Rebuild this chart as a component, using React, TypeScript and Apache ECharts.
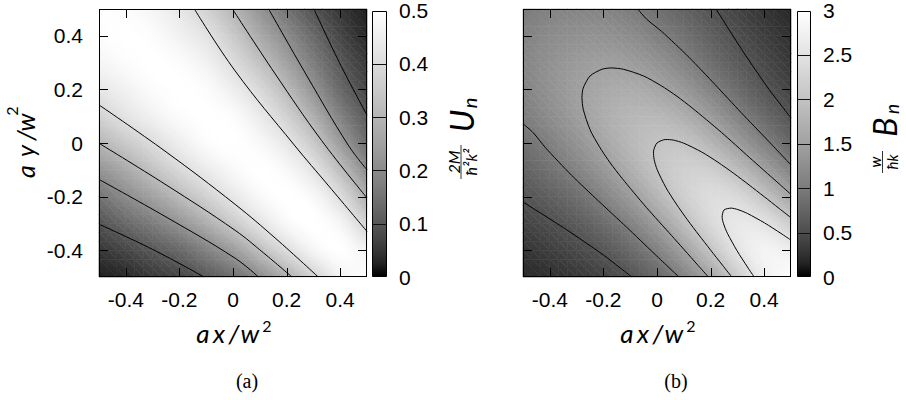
import React, { useEffect, useRef } from "react";
import * as echarts from "echarts";

const FONT = "'Liberation Sans', Arial, sans-serif";
const MATH = "Lato, 'Liberation Sans', sans-serif";
const SERIF = "'Liberation Serif', 'Times New Roman', serif";

const nodeX = [-0.5, -0.4, -0.3, -0.2, -0.1, 0, 0.1, 0.2, 0.3, 0.4, 0.5];
const nodeY = [0.5, 0.4, 0.3, 0.2, 0.1, 0, -0.1, -0.2, -0.3, -0.4, -0.5];
const axisTicks = [-0.4, -0.2, 0, 0.2, 0.4];
const uBarTicks = [0, 0.1, 0.2, 0.3, 0.4, 0.5];
const bBarTicks = [0, 0.5, 1, 1.5, 2, 2.5, 3];
const uMax = 0.5;
const bMax = 3;

const uField = [
  [0.50, 0.49, 0.47, 0.43, 0.37, 0.30, 0.22, 0.15, 0.09, 0.05, 0.02],
  [0.49, 0.50, 0.49, 0.46, 0.42, 0.35, 0.27, 0.20, 0.13, 0.07, 0.03],
  [0.47, 0.49, 0.50, 0.49, 0.46, 0.40, 0.33, 0.25, 0.17, 0.10, 0.05],
  [0.43, 0.46, 0.49, 0.50, 0.49, 0.45, 0.39, 0.31, 0.22, 0.13, 0.07],
  [0.37, 0.42, 0.46, 0.49, 0.50, 0.49, 0.44, 0.37, 0.28, 0.18, 0.10],
  [0.30, 0.35, 0.40, 0.45, 0.49, 0.50, 0.48, 0.43, 0.35, 0.24, 0.14],
  [0.22, 0.27, 0.33, 0.39, 0.44, 0.48, 0.50, 0.48, 0.42, 0.32, 0.20],
  [0.15, 0.20, 0.25, 0.31, 0.37, 0.43, 0.48, 0.50, 0.48, 0.40, 0.28],
  [0.09, 0.13, 0.17, 0.22, 0.28, 0.35, 0.42, 0.48, 0.50, 0.47, 0.37],
  [0.05, 0.07, 0.10, 0.13, 0.18, 0.24, 0.32, 0.40, 0.47, 0.50, 0.46],
  [0.02, 0.03, 0.05, 0.07, 0.10, 0.14, 0.20, 0.28, 0.37, 0.46, 0.50],
];

const bField = [
  [1.00, 1.08, 1.12, 1.10, 1.01, 0.87, 0.71, 0.55, 0.40, 0.28, 0.19],
  [1.08, 1.20, 1.27, 1.28, 1.21, 1.06, 0.88, 0.68, 0.50, 0.35, 0.24],
  [1.12, 1.27, 1.40, 1.46, 1.43, 1.30, 1.09, 0.85, 0.63, 0.45, 0.30],
  [1.10, 1.28, 1.46, 1.60, 1.65, 1.56, 1.36, 1.09, 0.82, 0.58, 0.40],
  [1.01, 1.21, 1.43, 1.65, 1.80, 1.82, 1.68, 1.41, 1.08, 0.79, 0.55],
  [0.87, 1.06, 1.30, 1.56, 1.82, 2.00, 2.00, 1.79, 1.44, 1.08, 0.77],
  [0.71, 0.88, 1.09, 1.36, 1.68, 2.00, 2.20, 2.17, 1.89, 1.49, 1.09],
  [0.55, 0.68, 0.85, 1.09, 1.41, 1.79, 2.17, 2.40, 2.34, 2.00, 1.55],
  [0.40, 0.50, 0.63, 0.82, 1.08, 1.44, 1.89, 2.34, 2.60, 2.51, 2.13],
  [0.28, 0.35, 0.45, 0.58, 0.79, 1.08, 1.49, 2.00, 2.51, 2.80, 2.70],
  [0.19, 0.24, 0.30, 0.40, 0.55, 0.77, 1.09, 1.55, 2.13, 2.70, 3.00],
];

const uContour04Low = [[-0.5, 0.142], [-0.25, -0.033], [0.008, -0.229], [0.16, -0.357], [0.318, -0.5]];
const uContour03Low = [[-0.5, -0.001], [-0.25, -0.156], [0.008, -0.326], [0.115, -0.411], [0.22, -0.5]];
const uContour02Low = [[-0.5, -0.136], [-0.25, -0.276], [0.008, -0.43], [0.095, -0.5]];
const uContour01Low = [[-0.5, -0.303], [-0.3, -0.397], [-0.108, -0.5]];
const uContour04High = [[-0.144, 0.5], [0.008, 0.269], [0.229, -0.008], [0.357, -0.16], [0.5, -0.33]];
const uContour03High = [[-0.002, 0.5], [0.156, 0.26], [0.33, 0.01], [0.5, -0.205]];
const uContour02High = [[0.133, 0.5], [0.276, 0.25], [0.43, -0.008], [0.5, -0.1]];
const uContour01High = [[0.302, 0.5], [0.397, 0.3], [0.5, 0.104]];

const bContour05Low = [[-0.5, -0.22], [-0.34, -0.322], [-0.2, -0.418], [-0.094, -0.5]];
const bContour05High = [[0.22, 0.5], [0.322, 0.34], [0.418, 0.2], [0.5, 0.094]];
const bContour10Low = [[-0.5, 0.072], [-0.4618, 0.0383], [-0.4168, -0.0168], [-0.3195, -0.1195], [-0.2173, -0.2173], [-0.1138, -0.3138], [-0.0116, -0.4116], [0.082, -0.5]];
const bContour10High = [[-0.072, 0.5], [-0.0383, 0.4618], [0.0168, 0.4168], [0.1195, 0.3195], [0.2173, 0.2173], [0.3138, 0.1138], [0.4116, 0.0116], [0.5, -0.082]];
const bContour15 = [[0.5, -0.192], [0.4514, -0.1486], [0.3455, -0.0545], [0.24, 0.04], [0.131, 0.131], [0.0744, 0.1744], [0.0145, 0.2145], [-0.05, 0.25], [-0.125, 0.275], [-0.17, 0.28], [-0.2046, 0.2754], [-0.25, 0.25], [-0.2754, 0.2046], [-0.28, 0.17], [-0.275, 0.125], [-0.25, 0.05], [-0.2145, -0.0145], [-0.1744, -0.0744], [-0.131, -0.131], [-0.04, -0.24], [0.0545, -0.3455], [0.1486, -0.4514], [0.192, -0.5]];
const bContour20 = [[0.5, -0.279], [0.4558, -0.2442], [0.3999, -0.2002], [0.3436, -0.1565], [0.2865, -0.1135], [0.2279, -0.0721], [0.1666, -0.0335], [0.0995, -0.0006], [0.0609, 0.0109], [0.0331, 0.0131], [0, 0], [-0.0131, -0.0331], [-0.0109, -0.0609], [0.0006, -0.0995], [0.0335, -0.1666], [0.0721, -0.2279], [0.1135, -0.2865], [0.1565, -0.3436], [0.2002, -0.3999], [0.2442, -0.4558], [0.279, -0.5]];
const bContour25 = [[0.5, -0.3625], [0.4626, -0.3374], [0.4017, -0.2984], [0.3372, -0.2628], [0.3017, -0.2484], [0.277, -0.243], [0.25, -0.25], [0.243, -0.277], [0.2484, -0.3017], [0.2628, -0.3372], [0.2984, -0.4017], [0.3374, -0.4626], [0.3625, -0.5]];

const uContours = [uContour04Low, uContour03Low, uContour02Low, uContour01Low, uContour04High, uContour03High, uContour02High, uContour01High];
const bContours = [bContour05Low, bContour05High, bContour10Low, bContour10High, bContour15, bContour20, bContour25];

const TICK_COLOR = "#000";

function gray(t: number) {
  const c = Math.max(0, Math.min(1, t));
  const g = Math.round(255 * Math.pow(c, 1 / 1.5));
  return `rgb(${g},${g},${g})`;
}

// smooth reading of the node table, used only to shade between nodes
function sampleField(field: number[][], gc: number, gr: number) {
  const n = field.length;
  const at = (r: number, c: number): number => {
    if (r < 0) return 2 * at(0, c) - at(1, c);
    if (r > n - 1) return 2 * at(n - 1, c) - at(n - 2, c);
    if (c < 0) return 2 * at(r, 0) - at(r, 1);
    if (c > n - 1) return 2 * at(r, n - 1) - at(r, n - 2);
    return field[r][c];
  };
  const cr = (p0: number, p1: number, p2: number, p3: number, t: number) =>
    0.5 * (2 * p1 + (-p0 + p2) * t + (2 * p0 - 5 * p1 + 4 * p2 - p3) * t * t + (-p0 + 3 * p1 - 3 * p2 + p3) * t * t * t);
  const c = Math.min(Math.floor(gc), n - 2), r = Math.min(Math.floor(gr), n - 2);
  const tx = gc - c, ty = gr - r;
  const rows = [-1, 0, 1, 2].map((k) => cr(at(r + k, c - 1), at(r + k, c), at(r + k, c + 1), at(r + k, c + 2), tx));
  return cr(rows[0], rows[1], rows[2], rows[3], ty);
}

function triangle(p: number[][], f: number[], max: number) {
  const [p0, p1, p2] = p;
  const [f0, f1, f2] = f;
  const e1x = p1[0] - p0[0], e1y = p1[1] - p0[1];
  const e2x = p2[0] - p0[0], e2y = p2[1] - p0[1];
  const det = e1x * e2y - e1y * e2x;
  const d1 = f1 - f0, d2 = f2 - f0;
  const gx = (d1 * e2y - d2 * e1y) / det;
  const gy = (e1x * d2 - e2x * d1) / det;
  const g2 = gx * gx + gy * gy;
  const lo = Math.min(f0, f1, f2), hi = Math.max(f0, f1, f2);
  let fill: any;
  if (!isFinite(g2) || g2 < 1e-14 || hi - lo < 1e-5) fill = gray((f0 + f1 + f2) / 3 / max);
  else {
    const sx = p0[0] + ((lo - f0) * gx) / g2, sy = p0[1] + ((lo - f0) * gy) / g2;
    const ex = p0[0] + ((hi - f0) * gx) / g2, ey = p0[1] + ((hi - f0) * gy) / g2;
    fill = new echarts.graphic.LinearGradient(sx, sy, ex, ey, [
      { offset: 0, color: gray(lo / max) },
      { offset: 0.5, color: gray((lo + hi) / 2 / max) },
      { offset: 1, color: gray(hi / max) },
    ], true);
  }
  return { type: "polygon", shape: { points: p }, style: { fill, stroke: fill, lineWidth: 0.6 } };
}

const SUB = 3;

function fieldSeries(field: number[][], max: number, axisIndex: number) {
  const cells: number[][] = [];
  for (let r = 0; r < nodeY.length - 1; r++)
    for (let c = 0; c < nodeX.length - 1; c++)
      cells.push([(nodeX[c] + nodeX[c + 1]) / 2, (nodeY[r] + nodeY[r + 1]) / 2, c, r]);
  return {
    type: "custom",
    xAxisIndex: axisIndex,
    yAxisIndex: axisIndex,
    silent: true,
    z: 1,
    encode: { x: 0, y: 1 },
    data: cells,
    renderItem: (params: any, api: any) => {
      const c = api.value(2), r = api.value(3);
      const tl = api.coord([nodeX[c], nodeY[r]]);
      const br = api.coord([nodeX[c + 1], nodeY[r + 1]]);
      const P: number[][][] = [];
      const V: number[][] = [];
      for (let j = 0; j <= SUB; j++) {
        P.push([]);
        V.push([]);
        for (let i = 0; i <= SUB; i++) {
          P[j].push([tl[0] + ((br[0] - tl[0]) * i) / SUB, tl[1] + ((br[1] - tl[1]) * j) / SUB]);
          V[j].push(Math.max(0, Math.min(max, sampleField(field, c + i / SUB, r + j / SUB))));
        }
      }
      const children: any[] = [];
      for (let j = 0; j < SUB; j++)
        for (let i = 0; i < SUB; i++) {
          children.push(triangle([P[j][i], P[j][i + 1], P[j + 1][i + 1]], [V[j][i], V[j][i + 1], V[j + 1][i + 1]], max));
          children.push(triangle([P[j][i], P[j + 1][i + 1], P[j + 1][i]], [V[j][i], V[j + 1][i + 1], V[j + 1][i]], max));
        }
      return { type: "group", children };
    },
  };
}

// inward ticks on one side of a map, one item per tick value
function tickBars(axisIndex: number, side: "bottom" | "top" | "left" | "right") {
  const horiz = side === "bottom" || side === "top";
  return {
    type: "custom",
    xAxisIndex: axisIndex,
    yAxisIndex: axisIndex,
    silent: true,
    z: 30,
    zlevel: 1,
    data: axisTicks.map((t) => (horiz ? [t, side === "bottom" ? -0.5 : 0.5] : [side === "left" ? -0.5 : 0.5, t])),
    renderItem: (params: any, api: any) => {
      const p = api.coord([api.value(0), api.value(1)]);
      const L = 8;
      let x1, y1, x2, y2;
      if (horiz) {
        x1 = x2 = Math.round(p[0]) + 0.5;
        y1 = side === "bottom" ? Math.round(p[1]) - 0.5 : Math.round(p[1]) + 0.5;
        y2 = side === "bottom" ? y1 - L : y1 + L;
      } else {
        y1 = y2 = Math.round(p[1]) + 0.5;
        x1 = side === "left" ? Math.round(p[0]) + 0.5 : Math.round(p[0]) - 0.5;
        x2 = side === "left" ? x1 + L : x1 - L;
      }
      return { type: "rect", shape: { x: Math.min(x1, x2) - 0.5, y: Math.min(y1, y2) - 0.5, width: Math.abs(x2 - x1) + 1, height: Math.abs(y2 - y1) + 1 }, style: { fill: TICK_COLOR } };
    },
  };
}

function frameRect(axisIndex: number) {
  return {
    type: "custom",
    xAxisIndex: axisIndex,
    yAxisIndex: axisIndex,
    silent: true,
    z: 30,
    zlevel: 1,
    data: [[0, 0]],
    renderItem: (params: any, api: any) => {
      const tl = api.coord([nodeX[0], nodeY[0]]);
      const br = api.coord([nodeX[nodeX.length - 1], nodeY[nodeY.length - 1]]);
      const x0 = Math.round(tl[0]), x1 = Math.round(br[0]);
      const y0 = Math.round(tl[1]), y1 = Math.round(br[1]);
      return {
        type: "group",
        children: [
          { type: "rect", shape: { x: x0, y: y0, width: x1 - x0, height: 1 }, style: { fill: TICK_COLOR } },
          { type: "rect", shape: { x: x0, y: y1 - 1, width: x1 - x0, height: 1 }, style: { fill: TICK_COLOR } },
          { type: "rect", shape: { x: x0, y: y0, width: 1, height: y1 - y0 }, style: { fill: TICK_COLOR } },
          { type: "rect", shape: { x: x1 - 1, y: y0, width: 1, height: y1 - y0 }, style: { fill: TICK_COLOR } },
        ],
      };
    },
  };
}

function barSeries(ticks: number[], max: number, axisIndex: number) {
  return {
    type: "custom",
    xAxisIndex: axisIndex,
    yAxisIndex: axisIndex,
    silent: true,
    data: [[0.5, max / 2]],
    renderItem: (params: any, api: any) => {
      const bl = api.coord([0, 0]);
      const tr = api.coord([1, max]);
      const x0 = Math.round(bl[0]) + 0.5, x1 = Math.round(tr[0]) - 0.5;
      const y0 = Math.round(tr[1]) + 0.5, y1 = Math.round(bl[1]) - 0.5;
      const stops = [];
      for (let k = 0; k <= 20; k++) stops.push({ offset: k / 20, color: gray(1 - k / 20) });
      const children: any[] = [
        { type: "rect", shape: { x: x0, y: y0, width: x1 - x0, height: y1 - y0 }, style: { fill: new echarts.graphic.LinearGradient(0, 0, 0, 1, stops) } },
      ];
      ticks.forEach((t) => {
        if (t <= 0 || t >= max) return;
        const y = Math.round(api.coord([0, t])[1]) + 0.5;
        children.push({ type: "line", shape: { x1: x0, y1: y, x2: x1, y2: y }, style: { stroke: "#111", lineWidth: 1 } });
      });
      children.push({ type: "rect", shape: { x: x0, y: y0, width: x1 - x0, height: y1 - y0 }, style: { fill: "none", stroke: "#000", lineWidth: 1 } });
      return { type: "group", children };
    },
  };
}

function contourSeries(lines: number[][][], axisIndex: number, smooth: number) {
  return lines.map((pts) => ({
    type: "line",
    xAxisIndex: axisIndex,
    yAxisIndex: axisIndex,
    data: pts,
    symbol: "none",
    smooth,
    silent: true,
    z: 3,
    lineStyle: { color: "#000", width: 1 },
  }));
}

function frameAxis(dim: "x" | "y", gridIndex: number, position: string, showLabel: boolean) {
  return {
    gridIndex,
    type: "value",
    min: -0.5,
    max: 0.5,
    position,
    axisLine: { show: false, onZero: false },
    axisTick: { show: false },
    axisLabel: { show: showLabel, customValues: axisTicks, margin: dim === "x" ? 12 : 16, fontSize: 21, fontFamily: FONT, color: "#000" },
    splitLine: { show: false },
  };
}

function barAxis(gridIndex: number, max: number, interval: number) {
  return {
    gridIndex,
    type: "value",
    min: 0,
    max,
    interval,
    position: "right",
    axisLine: { show: false },
    axisTick: { show: false },
    splitLine: { show: false },
    axisLabel: { show: true, margin: 12, fontSize: 21, fontFamily: FONT, color: "#000" },
  };
}

function hiddenX(gridIndex: number) {
  return { gridIndex, type: "value", min: 0, max: 1, show: false };
}

function glyph(text: string, x: number, y: number, fs: number, italic = true, family = MATH, weight: any = "normal") {
  return {
    type: "text",
    x,
    y,
    z: 50,
    style: { text, fontSize: fs, fontFamily: family, fontStyle: italic ? "italic" : "normal", fontWeight: weight, fill: "#000", align: "center", verticalAlign: "middle" },
  };
}

function xTitle(cx: number) {
  return {
    type: "group",
    children: [
      glyph("a", cx - 30, 333, 26),
      glyph("x", cx - 14, 333, 26),
      glyph("/", cx + 1, 333, 26),
      glyph("w", cx + 17, 333, 26),
      glyph("2", cx + 34, 325, 16, false),
    ],
  };
}

const textGraphics: any[] = [
  {
    type: "group",
    x: 22,
    y: 145,
    rotation: Math.PI / 2,
    children: [
      glyph("a", -26.5, 2.7, 25),
      glyph("y", -6, 2.7, 25),
      glyph("/", 9.5, 2.7, 25),
      glyph("w", 22.5, 2.7, 25),
      glyph("2", 34, -10.2, 16, false),
    ],
  },
  xTitle(233),
  xTitle(657),
  {
    type: "group",
    x: 461,
    y: 141,
    rotation: Math.PI / 2,
    children: [
      glyph("2M", -21, -8, 16),
      { type: "line", z: 50, shape: { x1: -38, y1: 0, x2: -4, y2: 0 }, style: { stroke: "#000", lineWidth: 0.8 } },
      glyph("ħ²k²", -21, 9, 16),
      glyph("U", 20, 0, 33),
      glyph("n", 38, 8, 20),
    ],
  },
  {
    type: "group",
    x: 884,
    y: 140,
    rotation: Math.PI / 2,
    children: [
      glyph("w", -22, -9, 15),
      { type: "line", z: 50, shape: { x1: -33, y1: -1.5, x2: -11, y2: -1.5 }, style: { stroke: "#000", lineWidth: 0.8 } },
      glyph("ħk", -22, 8, 15),
      glyph("B", 13, 0, 32),
      glyph("n", 31, 7, 19),
    ],
  },
  glyph("(a)", 247, 381, 20, false, SERIF),
  glyph("(b)", 676, 381, 20, false, SERIF),
];

export default function App() {
  const ref = useRef<HTMLDivElement>(null);
  useEffect(() => {
    const chart = echarts.init(ref.current as HTMLDivElement, null, { renderer: "svg" });
    const sides: ("bottom" | "top" | "left" | "right")[] = ["bottom", "top", "left", "right"];
    const option: any = {
      animation: false,
      backgroundColor: "#fff",
      grid: [
        { left: 99, top: 9, width: 268, height: 268 },
        { left: 372, top: 9, width: 15, height: 268 },
        { left: 523, top: 9, width: 268, height: 268 },
        { left: 797, top: 9, width: 14, height: 268 },
      ],
      xAxis: [frameAxis("x", 0, "bottom", true), hiddenX(1), frameAxis("x", 2, "bottom", true), hiddenX(3)],
      yAxis: [frameAxis("y", 0, "left", true), barAxis(1, uMax, 0.1), frameAxis("y", 2, "left", false), barAxis(3, bMax, 0.5)],
      series: [
        fieldSeries(uField, uMax, 0),
        ...contourSeries(uContours, 0, 0.4),
        barSeries(uBarTicks, uMax, 1),
        fieldSeries(bField, bMax, 2),
        ...contourSeries(bContours, 2, 0.25),
        barSeries(bBarTicks, bMax, 3),
        ...sides.map((s) => tickBars(0, s)),
        ...sides.map((s) => tickBars(2, s)),
        frameRect(0),
        frameRect(2),
      ],
      graphic: textGraphics,
    };
    chart.setOption(option);
    return () => chart.dispose();
  }, []);
  return <div ref={ref} style={{ position: "absolute", left: 0, top: 0, width: 906, height: 400, background: "#fff" }} />;
}
